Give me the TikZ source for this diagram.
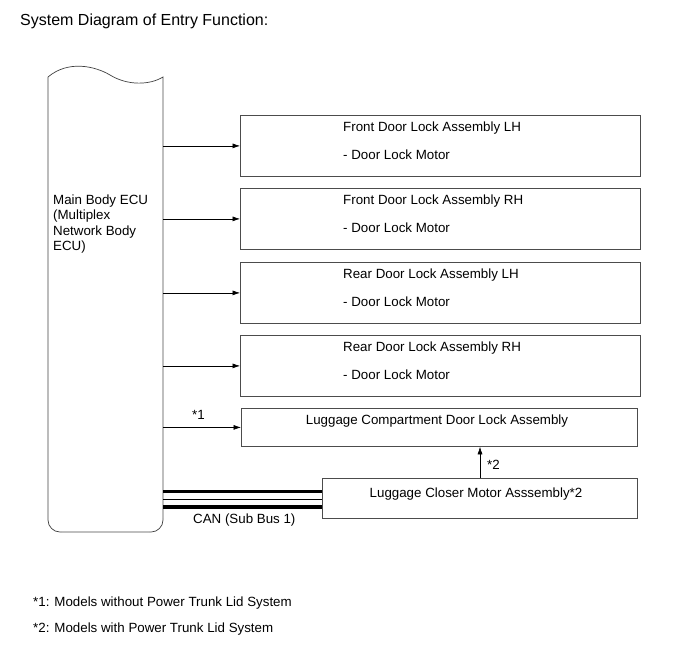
\documentclass[tikz,border=0pt]{standalone}
\usepackage{fontspec}
\setmainfont{Liberation Sans}
\usetikzlibrary{arrows.meta}
\begin{document}
\begin{tikzpicture}[x=1pt,y=-1pt,
  box/.style={draw=black!70, line width=0.8pt, rectangle, inner sep=0pt, anchor=north west},
  txt/.style={font=\fontsize{13.33}{16}\selectfont, inner sep=0pt, anchor=base west},
  ctxt/.style={font=\fontsize{13.33}{16}\selectfont, inner sep=0pt, anchor=base},
  arr/.style={-{Latex[length=7.5pt,width=5pt]}, line width=0.6pt},
  bus/.style={line width=3.3pt},
  thinbus/.style={line width=1pt}
]
\useasboundingbox (0,0) rectangle (690,659);

% title
\node[txt, font=\fontsize{16}{19}\selectfont] (title) at (20,25) {System Diagram of Entry Function:};

% ECU
\node[inner sep=0pt, minimum width=115pt, minimum height=455pt, anchor=north west] (ecu) at (48,77) {};
\draw[black!75, line width=0.7pt]
  (48,77) .. controls (68,60) and (95,66) .. (110,75)
  .. controls (128,86) and (150,85) .. (163,77)
  -- (163,520) arc[start angle=0, end angle=-90, radius=12pt]
  -- (60,532) arc[start angle=-90, end angle=-180, radius=12pt] -- cycle;
\draw[black!25, line width=1.6pt] (163,79) -- (163,518);
\draw[black!25, line width=1.4pt] (62,532) -- (149,532);
\node[txt] (e1) at (53,204) {Main Body ECU};
\node[txt] (e2) at (53,219.5) {(Multiplex};
\node[txt] (e3) at (53,235) {Network Body};
\node[txt] (e4) at (53,250.5) {ECU)};

% door lock boxes
\node[box, minimum width=400pt, minimum height=61pt] (b1) at (240,115) {};
\node[box, minimum width=400pt, minimum height=61pt] (b2) at (240,188) {};
\node[box, minimum width=400pt, minimum height=61pt] (b3) at (240,262) {};
\node[box, minimum width=400pt, minimum height=61pt] (b4) at (240,335) {};
\node[box, minimum width=396pt, minimum height=38pt] (b5) at (241,408) {};
\node[box, minimum width=315pt, minimum height=40pt] (b6) at (322,478) {};

\node[txt] (t1) at (343,131.5) {Front Door Lock Assembly LH};
\node[txt] (m1) at (343,159) {- Door Lock Motor};
\node[txt] (t2) at (343,204.5) {Front Door Lock Assembly RH};
\node[txt] (m2) at (343,232) {- Door Lock Motor};
\node[txt] (t3) at (343,278.5) {Rear Door Lock Assembly LH};
\node[txt] (m3) at (343,306) {- Door Lock Motor};
\node[txt] (t4) at (343,351.5) {Rear Door Lock Assembly RH};
\node[txt] (m4) at (343,379) {- Door Lock Motor};
\node[ctxt] (t5) at (437,424.5) {Luggage Compartment Door Lock Assembly};
\node[ctxt] (t6) at (476,497) {Luggage Closer Motor Asssembly*2};

% arrows from ECU
\draw[arr] (ecu.east |- b1.west) -- (b1.west);
\draw[arr] (ecu.east |- b2.west) -- (b2.west);
\draw[arr] (ecu.east |- b3.west) -- (b3.west);
\draw[arr] (ecu.east |- b4.west) -- (b4.west);
\draw[arr] (ecu.east |- b5.west) -- (b5.west);
\node[txt] (s1) at (192,419) {*1};

% closer to luggage lock
\coordinate (a2) at (480,478);
\draw[arr] (a2) -- (a2 |- b5.south);
\node[txt] (s2) at (487,469.5) {*2};

% CAN bus
\coordinate (c1) at (163,491.8);
\coordinate (c2) at (163,499.2);
\coordinate (c3) at (163,507);
\draw[bus] (c1) -- (c1 -| b6.west);
\draw[thinbus] (c2) -- (c2 -| b6.west);
\draw[bus] (c3) -- (c3 -| b6.west);
\node[txt] (can) at (193,523) {CAN (Sub Bus 1)};

% footnotes
\node[txt] (f1) at (33,606) {*1: Models without Power Trunk Lid System};
\node[txt] (f2) at (33,632) {*2: Models with Power Trunk Lid System};
\end{tikzpicture}
\end{document}
